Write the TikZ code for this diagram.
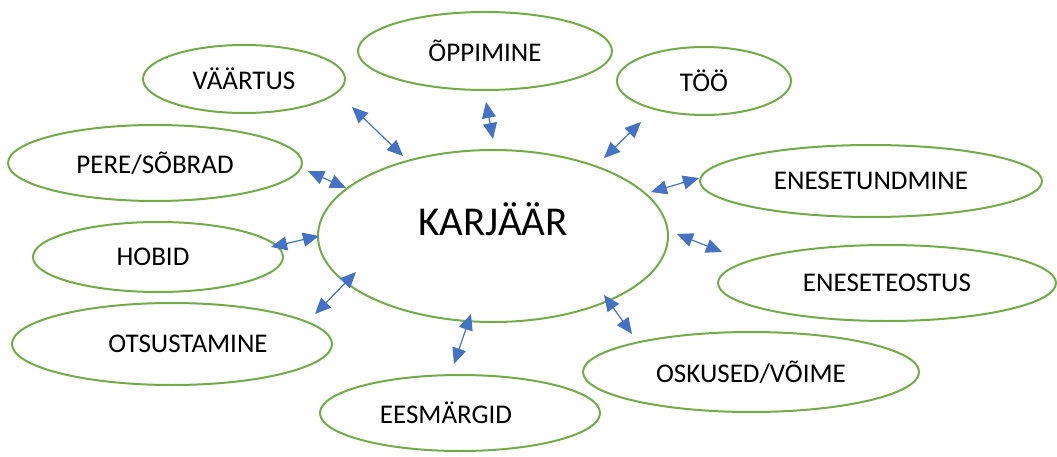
\documentclass[tikz,border=0pt]{standalone}
\usepackage{fontspec}
\setmainfont{Carlito}
\usetikzlibrary{shapes.geometric,arrows.meta}
\definecolor{ogreen}{RGB}{112,173,71}
\definecolor{oblue}{RGB}{68,114,196}
\tikzset{
  bub/.style={ellipse,draw=ogreen,line width=2pt,inner sep=0pt,font=\fontsize{27}{30}\selectfont},
  lnk/.style={draw=oblue,line width=1.2pt,{Triangle[length=16pt,width=14pt]}-{Triangle[length=16pt,width=14pt]}}
}
\begin{document}
\begin{tikzpicture}[x=1pt,y=-1pt]
\useasboundingbox (0,0) rectangle (1057,457);
\node[bub,minimum width=350pt,minimum height=172pt] (kar) at (493,236) {};
\node[font=\fontsize{41}{45}\selectfont] (kart) at (493,219) {KARJÄÄR};
\node[bub,minimum width=202pt,minimum height=68pt] (vaa) at (244,79) {VÄÄRTUS};
\node[bub,minimum width=254pt,minimum height=78pt] (opp) at (485,51) {ÕPPIMINE};
\node[bub,minimum width=174pt,minimum height=68pt] (too) at (704,81) {TÖÖ};
\node[bub,minimum width=294pt,minimum height=76pt] (per) at (155,163) {PERE/SÕBRAD};
\node[bub,minimum width=342pt,minimum height=72pt] (ene) at (871,181) {ENESETUNDMINE};
\node[bub,minimum width=250pt,minimum height=70pt] (hob) at (158,257) {HOBID\hspace*{10pt}};
\node[bub,minimum width=338pt,minimum height=76pt] (eno) at (887,283) {ENESETEOSTUS};
\node[bub,minimum width=320pt,minimum height=82pt] (ots) at (172,344) {\hspace*{32pt}OTSUSTAMINE};
\node[bub,minimum width=336pt,minimum height=80pt] (osk) at (751,372) {OSKUSED/VÕIME};
\node[bub,minimum width=280pt,minimum height=76pt] (ees) at (460,413) {EESMÄRGID\hspace*{28pt}};
\coordinate (a1) at (352,107); \coordinate (b1) at (403,156);
\coordinate (a2) at (486,102); \coordinate (b2) at (493,139);
\coordinate (a3) at (641,122); \coordinate (b3) at (604,158);
\coordinate (a4) at (308,171); \coordinate (b4) at (346,188);
\coordinate (a5) at (699,178); \coordinate (b5) at (651,192);
\coordinate (a6) at (271,247); \coordinate (b6) at (319,236);
\coordinate (a7) at (677,234); \coordinate (b7) at (722,252);
\coordinate (a8) at (315,314); \coordinate (b8) at (356,272);
\coordinate (a9) at (454,364); \coordinate (b9) at (471,314);
\coordinate (a10) at (604,295); \coordinate (b10) at (632,334);
\draw[lnk] (a1) -- (b1);
\draw[lnk] (a2) -- (b2);
\draw[lnk] (a3) -- (b3);
\draw[lnk] (a4) -- (b4);
\draw[lnk] (a5) -- (b5);
\draw[lnk] (a6) -- (b6);
\draw[lnk] (a7) -- (b7);
\draw[lnk] (a8) -- (b8);
\draw[lnk] (a9) -- (b9);
\draw[lnk] (a10) -- (b10);
\end{tikzpicture}
\end{document}
